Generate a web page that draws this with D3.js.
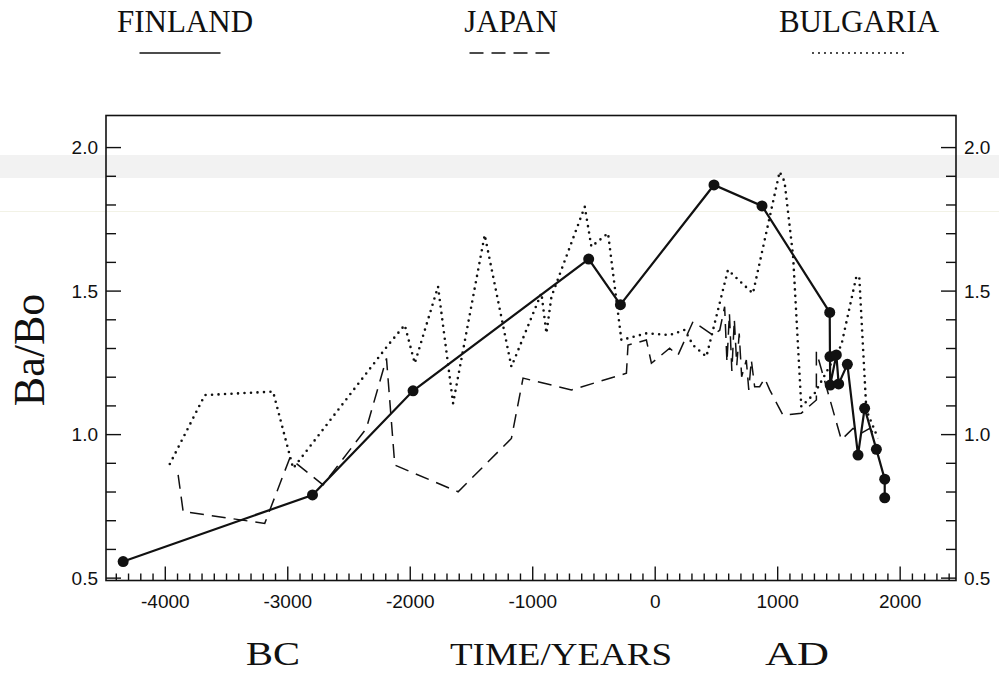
<!DOCTYPE html>
<html>
<head>
<meta charset="utf-8">
<script src="https://cdn.jsdelivr.net/npm/d3@7"></script>
<style>
  html, body { margin: 0; padding: 0; background: #fff; }
  svg { display: block; }
</style>
</head>
<body>
<svg id="chart" width="999" height="674"></svg>
<script>
// Ba/Bo ratio through time for three countries

const finlandYear  = [-4340, -2794, -1973, -539, -280, 484, 876, 1429, 1431, 1433, 1483, 1502, 1573, 1660, 1714, 1810, 1878, 1878];
const finlandRatio = [0.556, 0.788, 1.151, 1.610, 1.451, 1.868, 1.795, 1.424, 1.270, 1.171, 1.276, 1.175, 1.243, 0.927, 1.090, 0.947, 0.843, 0.778];

const japanYear  = [-3891, -3850, -3184, -2980, -2708, -2354, -2190, -2122, -1605, -1170, -1075, -680, -231, -218, -68, -27, 122, 190, 313, 476, 531, 571, 590, 610, 630, 650, 670, 690, 710, 748, 768, 789, 816, 857, 898, 939, 1047, 1197, 1320, 1320, 1524, 1619, 1687, 1755, 1823];
const japanRatio = [0.858, 0.730, 0.689, 0.916, 0.823, 1.020, 1.264, 0.892, 0.799, 0.985, 1.195, 1.154, 1.212, 1.310, 1.328, 1.247, 1.299, 1.275, 1.392, 1.345, 1.362, 1.444, 1.250, 1.420, 1.220, 1.400, 1.240, 1.350, 1.200, 1.258, 1.154, 1.258, 1.165, 1.165, 1.194, 1.154, 1.066, 1.073, 1.119, 1.287, 0.980, 1.020, 1.003, 1.020, 0.985];

const bulgariaYear  = [-3959, -3673, -3116, -2952, -2177, -2041, -1959, -1769, -1646, -1388, -1170, -925, -884, -843, -571, -517, -381, -272, -68, 122, 245, 313, 422, 598, 802, 1020, 1060, 1130, 1197, 1306, 1524, 1646, 1670, 1728, 1823];
const bulgariaRatio = [0.896, 1.136, 1.148, 0.881, 1.310, 1.380, 1.247, 1.514, 1.107, 1.694, 1.235, 1.491, 1.351, 1.479, 1.792, 1.653, 1.700, 1.328, 1.351, 1.345, 1.363, 1.310, 1.270, 1.572, 1.490, 1.914, 1.880, 1.620, 1.096, 1.142, 1.310, 1.548, 1.550, 1.084, 0.985];

const xTickLabels = [-4000, -3000, -2000, -1000, 0, 1000, 2000];
const yTickLabels = ["0.5", "1.0", "1.5", "2.0"];
const countryNames = ["FINLAND", "JAPAN", "BULGARIA"];

const svg = d3.select("#chart");
const serif = "'Liberation Serif', 'Times New Roman', serif";
const sans = "'Liberation Sans', Arial, sans-serif";

// light scan band across the page
svg.append("rect").attr("x", 0).attr("y", 155).attr("width", 999).attr("height", 23)
  .attr("fill", "#efefef").attr("opacity", 0.8);
svg.append("line").attr("x1", 0).attr("x2", 999).attr("y1", 211.5).attr("y2", 211.5)
  .attr("stroke", "#f2f2e6").attr("stroke-width", 1);

const x = d3.scaleLinear().domain([-4480, 2460]).range([106, 956]);
const y = d3.scaleLinear().domain([0.49, 2.11]).range([580.5, 115.5]);

const plot = svg.append("g");

// frame
plot.append("rect")
  .attr("x", x.range()[0]).attr("y", y.range()[1])
  .attr("width", x.range()[1] - x.range()[0])
  .attr("height", y.range()[0] - y.range()[1])
  .attr("fill", "none").attr("stroke", "#111").attr("stroke-width", 1.6);

// bottom axis: minor ticks every 100 years, major every 1000
const minorX = d3.range(-4400, 2500, 100).filter(v => v % 1000 !== 0);
const gxMinor = plot.append("g").attr("transform", `translate(0,${y.range()[0]})`)
  .call(d3.axisBottom(x).tickValues(minorX).tickSize(-7).tickFormat(""));
const gxMajor = plot.append("g").attr("transform", `translate(0,${y.range()[0]})`)
  .call(d3.axisBottom(x).tickValues(xTickLabels).tickSize(-14).tickPadding(0).tickFormat(d3.format("d")));
[gxMinor, gxMajor].forEach(g => {
  g.select(".domain").remove();
  g.selectAll(".tick line").attr("stroke", "#111").attr("stroke-width", 1.4);
});
gxMajor.selectAll(".tick text")
  .attr("y", 27).attr("dy", 0)
  .attr("font-family", sans).attr("font-size", 19).attr("fill", "#111")
  .text(d => d < 0 ? "-" + Math.abs(d) : d);

// left and right axes: minor ticks every 0.1, labels on the halves
const yMinor = d3.range(6, 21).map(v => v / 10).filter(v => Math.round(v * 10) % 5 !== 0);
const yMajor = yTickLabels.map(Number);
function yAxes(axisFn, xpos, labelSide) {
  const gm = plot.append("g").attr("transform", `translate(${xpos},0)`)
    .call(axisFn(y).tickValues(yMinor).tickSize(-10).tickFormat(""));
  const gM = plot.append("g").attr("transform", `translate(${xpos},0)`)
    .call(axisFn(y).tickValues(yMajor).tickSize(-15).tickFormat((d, i) => yTickLabels[i]));
  [gm, gM].forEach(g => {
    g.select(".domain").remove();
    g.selectAll(".tick line").attr("stroke", "#111").attr("stroke-width", 1.4);
  });
  gM.selectAll(".tick text")
    .attr("x", labelSide * 8).attr("dy", "0.36em")
    .attr("font-family", sans).attr("font-size", 19).attr("fill", "#111");
}
yAxes(d3.axisLeft, x.range()[0], -1);
yAxes(d3.axisRight, x.range()[1], 1);

// series
const line = d3.line().x(d => x(d[0])).y(d => y(d[1]));
const japan = japanYear.map((v, i) => [v, japanRatio[i]]);
const bulgaria = bulgariaYear.map((v, i) => [v, bulgariaRatio[i]]);
const finland = finlandYear.map((v, i) => [v, finlandRatio[i]]);

plot.append("path").datum(bulgaria).attr("d", line)
  .attr("fill", "none").attr("stroke", "#111").attr("stroke-width", 2.6)
  .attr("stroke-linecap", "round").attr("stroke-dasharray", "0 6.5");

plot.append("path").datum(japan).attr("d", line)
  .attr("fill", "none").attr("stroke", "#111").attr("stroke-width", 1.5)
  .attr("stroke-dasharray", "14 8");

plot.append("path").datum(finland).attr("d", line)
  .attr("fill", "none").attr("stroke", "#111").attr("stroke-width", 2.2);

plot.selectAll("circle.fin").data(finland).join("circle")
  .attr("class", "fin")
  .attr("cx", d => x(d[0])).attr("cy", d => y(d[1])).attr("r", 5.5)
  .attr("fill", "#111");

// legend
const legend = svg.append("g");
const legendX = [185, 511, 859];
const legendW = [81, 83, 92];
countryNames.forEach((name, i) => {
  legend.append("text").attr("x", legendX[i]).attr("y", 32)
    .attr("text-anchor", "middle").attr("font-family", serif).attr("font-size", 31)
    .attr("fill", "#111").text(name);
  const cx = legendX[i] - (i === 0 ? 5 : 0);
  const l = legend.append("line")
    .attr("x1", cx - legendW[i] / 2).attr("x2", cx + legendW[i] / 2)
    .attr("y1", 53).attr("y2", 53).attr("stroke", "#111")
    .attr("stroke-width", i === 2 ? 2 : 1.5);
  if (i === 1) l.attr("stroke-dasharray", "14 8");
  if (i === 2) l.attr("stroke-linecap", "round").attr("stroke-dasharray", "0 6");
});

// axis titles
svg.append("text").attr("transform", "translate(44,350) rotate(-90)")
  .attr("text-anchor", "middle").attr("font-family", serif).attr("font-size", 44)
  .attr("fill", "#111").text("Ba/Bo");
svg.append("text").attr("x", 273).attr("y", 665).attr("text-anchor", "middle")
  .attr("font-family", serif).attr("font-size", 34).attr("fill", "#111")
  .attr("textLength", 54).attr("lengthAdjust", "spacingAndGlyphs").text("BC");
svg.append("text").attr("x", 561).attr("y", 665).attr("text-anchor", "middle")
  .attr("font-family", serif).attr("font-size", 31).attr("fill", "#111")
  .attr("textLength", 222).attr("lengthAdjust", "spacingAndGlyphs").text("TIME/YEARS");
svg.append("text").attr("x", 797).attr("y", 665).attr("text-anchor", "middle")
  .attr("font-family", serif).attr("font-size", 34).attr("fill", "#111")
  .attr("textLength", 64).attr("lengthAdjust", "spacingAndGlyphs").text("AD");
</script>
</body>
</html>
